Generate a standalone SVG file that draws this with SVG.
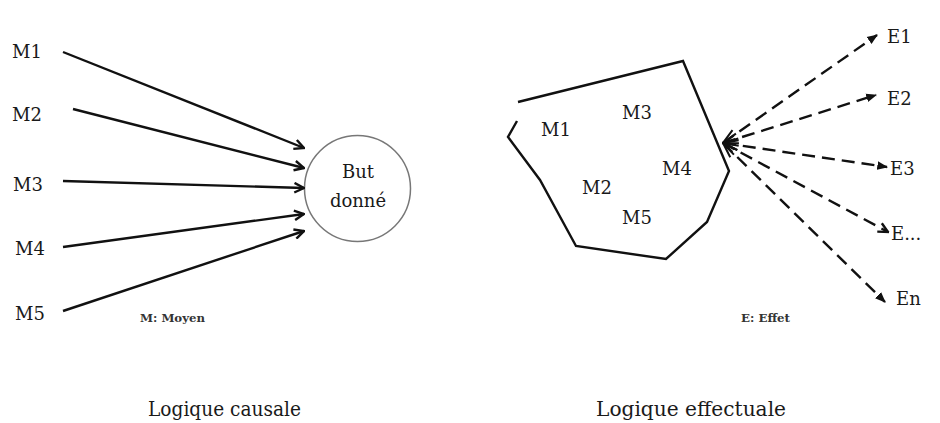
<svg xmlns="http://www.w3.org/2000/svg" width="940" height="423" viewBox="0 0 940 423">
<style>
text{font-family:"DejaVu Serif","Liberation Serif",serif;fill:#1a1a1a}
.lbl{font-size:18px}
.note{font-size:10.5px;font-weight:bold;fill:#333}
.title{font-size:21px}
.sol{stroke:#111;stroke-width:2.4;fill:none}
.dash{stroke:#111;stroke-width:2.4;fill:none;stroke-dasharray:13 7}
</style>
<defs>
<marker id="ah" viewBox="0 0 10 10" refX="9" refY="5" markerWidth="5" markerHeight="5" orient="auto-start-reverse" markerUnits="strokeWidth">
<path d="M1,1 L9,5 L1,9" fill="none" stroke="#111" stroke-width="2"/>
</marker>
<marker id="ahs" viewBox="0 0 10 10" refX="9.5" refY="5" markerWidth="7" markerHeight="7" orient="auto-start-reverse" markerUnits="strokeWidth">
<path d="M0.5,2 L9.5,5 L0.5,8" fill="none" stroke="#111" stroke-width="1.2"/>
</marker>
<marker id="ah2" viewBox="0 0 10 10" refX="9" refY="5" markerWidth="4.5" markerHeight="4.5" orient="auto-start-reverse" markerUnits="strokeWidth">
<path d="M0,1 L10,5 L0,9 Z" fill="#111"/>
</marker>
</defs>
<rect width="940" height="423" fill="#fff"/>
<g id="causal">
<g id="m1"><text class="lbl" x="12" y="58">M1</text></g>
<g id="m2"><text class="lbl" x="12" y="121">M2</text></g>
<g id="m3"><text class="lbl" x="13" y="191">M3</text></g>
<g id="m4"><text class="lbl" x="15" y="255">M4</text></g>
<g id="m5"><text class="lbl" x="15" y="320">M5</text></g>
<g id="but">
<circle cx="357.5" cy="188.5" r="53" fill="#fff" stroke="#777" stroke-width="1.5"/>
<text class="lbl" x="358" y="178" text-anchor="middle">But</text>
<text class="lbl" x="358" y="207" text-anchor="middle">donné</text>
</g>
<text class="note" x="140" y="322" textLength="65" lengthAdjust="spacingAndGlyphs">M: Moyen</text>
<text class="title" x="148" y="416" textLength="153" lengthAdjust="spacingAndGlyphs">Logique causale</text>
</g>
<g id="connectors-causal">
<line class="sol" x1="63" y1="52" x2="304" y2="148" marker-end="url(#ah)"/>
<line class="sol" x1="73" y1="109" x2="304" y2="168" marker-end="url(#ah)"/>
<line class="sol" x1="63" y1="181" x2="304" y2="188" marker-end="url(#ah)"/>
<line class="sol" x1="63" y1="247" x2="304" y2="214" marker-end="url(#ah)"/>
<line class="sol" x1="63" y1="311" x2="304" y2="231" marker-end="url(#ah)"/>
</g>
<g id="effectual">
<g id="ensemble">
<polyline class="sol" points="517,121 508,137 540,180 576,246 666,259 707,222 729,171 683,61 518,102"/>
<text class="lbl" x="541" y="136">M1</text>
<text class="lbl" x="622" y="119">M3</text>
<text class="lbl" x="662" y="175">M4</text>
<text class="lbl" x="582" y="194">M2</text>
<text class="lbl" x="622" y="224">M5</text>
</g>
<g id="e1"><text class="lbl" x="887" y="43">E1</text></g>
<g id="e2"><text class="lbl" x="887" y="105">E2</text></g>
<g id="e3"><text class="lbl" x="890" y="175">E3</text></g>
<g id="edots"><text class="lbl" x="891" y="240">E...</text></g>
<g id="en"><text class="lbl" x="896" y="305">En</text></g>
<text class="note" x="741" y="322" textLength="49" lengthAdjust="spacingAndGlyphs">E: Effet</text>
<text class="title" x="596" y="416" textLength="190" lengthAdjust="spacingAndGlyphs">Logique effectuale</text>
</g>
<g id="connectors-effectual">
<line class="dash" x1="723" y1="143" x2="877" y2="35" marker-start="url(#ahs)" marker-end="url(#ah2)"/>
<line class="dash" x1="723" y1="143" x2="876" y2="95" marker-start="url(#ahs)" marker-end="url(#ah2)"/>
<line class="dash" x1="723" y1="143" x2="887" y2="167" marker-start="url(#ahs)" marker-end="url(#ah2)"/>
<line class="dash" x1="723" y1="143" x2="888" y2="232" marker-start="url(#ahs)" marker-end="url(#ah)"/>
<line class="dash" x1="723" y1="143" x2="885" y2="302" marker-start="url(#ahs)" marker-end="url(#ah2)"/>
</g>
</svg>
